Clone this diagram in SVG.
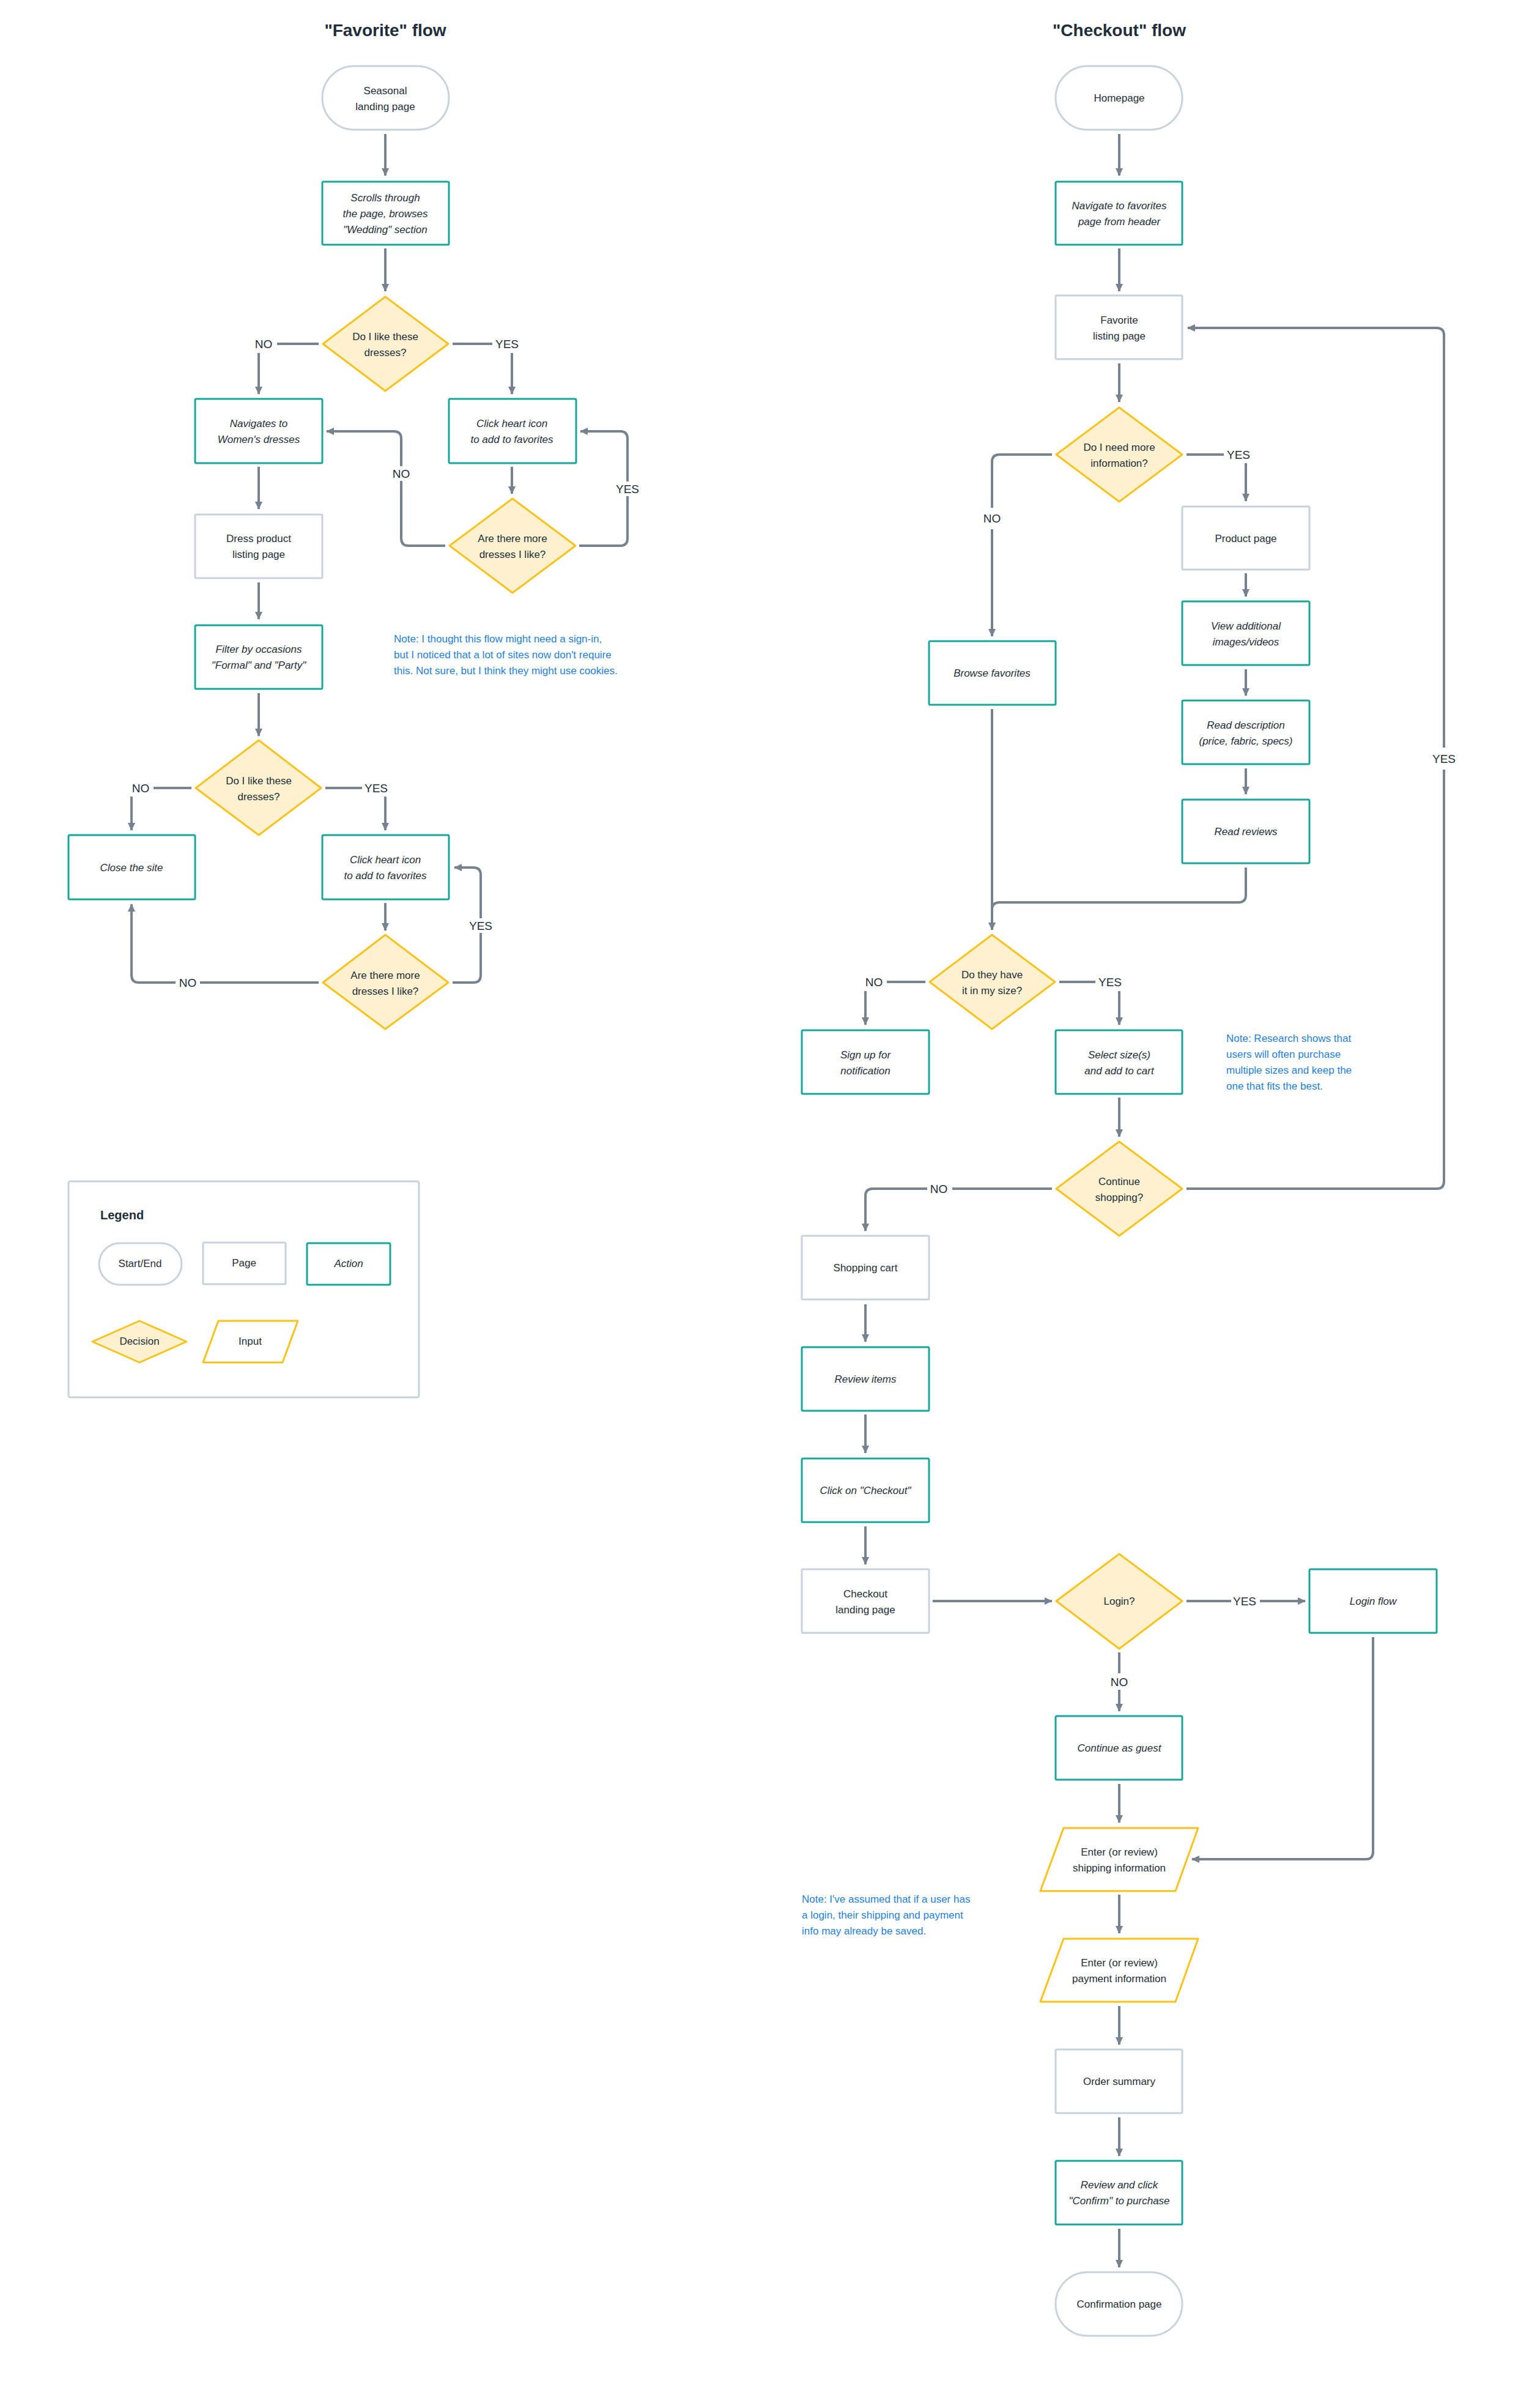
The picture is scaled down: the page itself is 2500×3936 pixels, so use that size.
<svg xmlns="http://www.w3.org/2000/svg" width="2500" height="3936" viewBox="0 0 2500 3936">
<style>
text{font-family:"Liberation Sans","DejaVu Sans",sans-serif;fill:#1f2d3a;font-size:17px;text-anchor:middle}
.t{font-size:28px;font-weight:bold}
.i{font-style:italic}
.lb{font-size:19px}
.note{fill:#1f7fd6;text-anchor:start;font-size:17px}
.act{fill:#fff;stroke:#17a697;stroke-width:3}
.pg{fill:#fff;stroke:#c8d2dc;stroke-width:3}
.dec{fill:#fdf1cf;stroke:#f6c21b;stroke-width:3;stroke-linejoin:round}
.inp{fill:#fff;stroke:#f6c21b;stroke-width:3;stroke-linejoin:round}
.c path{fill:none;stroke:#76828f;stroke-width:4}
.c path.a{marker-end:url(#ah)}
</style>
<defs>
<marker id="ah" markerUnits="userSpaceOnUse" markerWidth="14" markerHeight="14" refX="12" refY="7" orient="auto"><path d="M0,1 L13,7 L0,13 Z" fill="#76828f"/></marker>
</defs>
<rect width="2500" height="3936" fill="#fff"/>
<text class="t" x="630" y="59">"Favorite" flow</text>
<text class="t" x="1830" y="59">"Checkout" flow</text>

<g class="c" id="connectors">
<path class="a" d="M630,219 V287"/>
<path class="a" d="M630,406 V476"/>
<path d="M521,562 H453"/><path class="a" d="M423,577 V644"/>
<path d="M740,562 H805"/><path class="a" d="M837,577 V644"/>
<path class="a" d="M837,763 V807"/>
<path d="M728,892 H668 Q656,892 656,880 V786"/><path class="a" d="M656,762 V717 Q656,705 644,705 H534"/>
<path d="M947,892 H1014 Q1026,892 1026,880 V811"/><path class="a" d="M1026,787 V717 Q1026,705 1014,705 H949"/>
<path class="a" d="M423,763 V832"/>
<path class="a" d="M423,952 V1012"/>
<path class="a" d="M423,1133 V1203"/>
<path d="M313,1288 H251"/><path class="a" d="M215,1302 V1357"/>
<path d="M532,1288 H592"/><path class="a" d="M630,1302 V1357"/>
<path class="a" d="M630,1476 V1521"/>
<path d="M521,1606 H327"/><path class="a" d="M287,1606 H227 Q215,1606 215,1594 V1478"/>
<path d="M740,1606 H774 Q786,1606 786,1594 V1525"/><path class="a" d="M786,1501 V1430 Q786,1418 774,1418 H743"/>

<path class="a" d="M1830,219 V287"/>
<path class="a" d="M1830,406 V476"/>
<path class="a" d="M1830,594 V657"/>
<path d="M1720,743 H1634 Q1622,743 1622,755 V830"/><path class="a" d="M1622,865 V1040"/>
<path d="M1940,743 H2001"/><path class="a" d="M2037,757 V819"/>
<path class="a" d="M2037,937 V975"/>
<path class="a" d="M2037,1094 V1137"/>
<path class="a" d="M2037,1256 V1298"/>
<path class="a" d="M1622,1159 V1520"/>
<path d="M2037,1418 V1463 Q2037,1475 2025,1475 H1634 Q1622,1475 1622,1487"/>
<path d="M1513,1605 H1450"/><path class="a" d="M1415,1620 V1675"/>
<path d="M1732,1605 H1791"/><path class="a" d="M1830,1620 V1675"/>
<path class="a" d="M1830,1794 V1858"/>
<path d="M1720,1943 H1557"/><path class="a" d="M1516,1943 H1427 Q1415,1943 1415,1955 V2012"/>
<path d="M1940,1943 H2349 Q2361,1943 2361,1931 V1258"/><path class="a" d="M2361,1222 V548 Q2361,536 2349,536 H1942"/>
<path class="a" d="M1415,2132 V2193"/>
<path class="a" d="M1415,2312 V2375"/>
<path class="a" d="M1415,2495 V2557"/>
<path class="a" d="M1525,2617 H1720"/>
<path d="M1940,2617 H2013"/><path class="a" d="M2060,2617 H2134"/>
<path class="a" d="M2245,2676 V3027 Q2245,3039 2233,3039 H1949"/>
<path d="M1830,2701 V2735"/><path class="a" d="M1830,2762 V2797"/>
<path class="a" d="M1830,2916 V2979"/>
<path class="a" d="M1830,3097 V3160"/>
<path class="a" d="M1830,3279 V3342"/>
<path class="a" d="M1830,3461 V3524"/>
<path class="a" d="M1830,3643 V3706"/>
</g>

<g id="labels">
<text class="lb" x="431" y="569" font-size="22">NO</text>
<text class="lb" x="829" y="569">YES</text>
<text class="lb" x="656" y="781">NO</text>
<text class="lb" x="1026" y="806">YES</text>
<text class="lb" x="230" y="1295">NO</text>
<text class="lb" x="615" y="1295">YES</text>
<text class="lb" x="307" y="1613">NO</text>
<text class="lb" x="786" y="1520">YES</text>
<text class="lb" x="1622" y="854" font-size="21">NO</text>
<text class="lb" x="2025" y="750">YES</text>
<text class="lb" x="1429" y="1612">NO</text>
<text class="lb" x="1815" y="1612">YES</text>
<text class="lb" x="1535" y="1950">NO</text>
<text class="lb" x="2361" y="1247">YES</text>
<text class="lb" x="2035" y="2624">YES</text>
<text class="lb" x="1830" y="2756">NO</text>
</g>

<g id="n-seasonal"><rect class="pg" x="527" y="108" width="207" height="104" rx="52"/><text x="630" y="154">Seasonal</text><text x="630" y="180">landing page</text></g>
<g id="n-scrolls"><rect class="act" x="527" y="297" width="207" height="103" rx="2"/><text class="i" x="630" y="329">Scrolls through</text><text class="i" x="630" y="355">the page, browses</text><text class="i" x="630" y="381">"Wedding" section</text></g>
<g id="n-d1"><polygon class="dec" points="630,485 733,562 630,639 528,562"/><text x="630" y="556">Do I like these</text><text x="630" y="582">dresses?</text></g>
<g id="n-navigates"><rect class="act" x="319" y="652" width="208" height="105" rx="2"/><text class="i" x="423" y="698">Navigates to</text><text class="i" x="423" y="724">Women's dresses</text></g>
<g id="n-heart1"><rect class="act" x="734" y="652" width="208" height="105" rx="2"/><text class="i" x="837" y="698">Click heart icon</text><text class="i" x="837" y="724">to add to favorites</text></g>
<g id="n-more1"><polygon class="dec" points="838,815 941,892 838,969 735,892"/><text x="838" y="886">Are there more</text><text x="838" y="912">dresses I like?</text></g>
<g id="n-dresslist"><rect class="pg" x="319" y="841" width="208" height="104" rx="2"/><text x="423" y="886">Dress product</text><text x="423" y="912">listing page</text></g>
<g id="n-filter"><rect class="act" x="319" y="1022" width="208" height="104" rx="2"/><text class="i" x="423" y="1067">Filter by occasions</text><text class="i" x="423" y="1093">"Formal" and "Party"</text></g>
<g id="n-d2"><polygon class="dec" points="423,1210 525,1288 423,1365 320,1288"/><text x="423" y="1282">Do I like these</text><text x="423" y="1308">dresses?</text></g>
<g id="n-close"><rect class="act" x="112" y="1365" width="207" height="105" rx="2"/><text class="i" x="215" y="1424">Close the site</text></g>
<g id="n-heart2"><rect class="act" x="527" y="1365" width="207" height="105" rx="2"/><text class="i" x="630" y="1411">Click heart icon</text><text class="i" x="630" y="1437">to add to favorites</text></g>
<g id="n-more2"><polygon class="dec" points="630,1528 733,1606 630,1682 528,1606"/><text x="630" y="1600">Are there more</text><text x="630" y="1626">dresses I like?</text></g>
<g id="note1"><text class="note" x="644" y="1050">Note: I thought this flow might need a sign-in,</text><text class="note" x="644" y="1076">but I noticed that a lot of sites now don't require</text><text class="note" x="644" y="1102">this. Not sure, but I think they might use cookies.</text></g>

<g id="legend">
<rect x="112" y="1931" width="573" height="353" rx="3" fill="#fff" stroke="#c8d2dc" stroke-width="3"/>
<text x="164" y="1993" style="text-anchor:start;font-weight:bold;font-size:20px">Legend</text>
<rect class="pg" x="162" y="2032" width="135" height="68" rx="34"/><text x="229" y="2071" font-size="14">Start/End</text>
<rect class="pg" x="332" y="2031" width="135" height="68" rx="2"/><text x="399" y="2070" font-size="14">Page</text>
<rect class="act" x="502" y="2032" width="136" height="68" rx="2"/><text class="i" x="570" y="2071" font-size="14">Action</text>
<polygon class="dec" points="228,2159 305,2193 228,2227 151,2193"/><text x="228" y="2198" font-size="14">Decision</text>
<polygon class="inp" points="357,2159 487,2159 462,2227 332,2227"/><text x="409" y="2198" font-size="14">Input</text>
</g>

<g id="n-home"><rect class="pg" x="1726" y="108" width="207" height="104" rx="52"/><text x="1830" y="166">Homepage</text></g>
<g id="n-navfav"><rect class="act" x="1726" y="297" width="207" height="103" rx="2"/><text class="i" x="1830" y="342">Navigate to favorites</text><text class="i" x="1830" y="368">page from header</text></g>
<g id="n-favlist"><rect class="pg" x="1726" y="483" width="207" height="104" rx="2"/><text x="1830" y="529">Favorite</text><text x="1830" y="555">listing page</text></g>
<g id="n-needinfo"><polygon class="dec" points="1830,666 1933,743 1830,820 1727,743"/><text x="1830" y="737">Do I need more</text><text x="1830" y="763">information?</text></g>
<g id="n-product"><rect class="pg" x="1933" y="828" width="208" height="103" rx="2"/><text x="2037" y="886">Product page</text></g>
<g id="n-viewadd"><rect class="act" x="1933" y="983" width="208" height="104" rx="2"/><text class="i" x="2037" y="1029">View additional</text><text class="i" x="2037" y="1055">images/videos</text></g>
<g id="n-readdesc"><rect class="act" x="1933" y="1145" width="208" height="104" rx="2"/><text class="i" x="2037" y="1191">Read description</text><text class="i" x="2037" y="1217">(price, fabric, specs)</text></g>
<g id="n-reviews"><rect class="act" x="1933" y="1307" width="208" height="104" rx="2"/><text class="i" x="2037" y="1365">Read reviews</text></g>
<g id="n-browse"><rect class="act" x="1519" y="1048" width="207" height="104" rx="2"/><text class="i" x="1622" y="1106">Browse favorites</text></g>
<g id="n-size"><polygon class="dec" points="1622,1528 1725,1605 1622,1682 1520,1605"/><text x="1622" y="1599">Do they have</text><text x="1622" y="1625">it in my size?</text></g>
<g id="n-signup"><rect class="act" x="1311" y="1684" width="208" height="104" rx="2"/><text class="i" x="1415" y="1730">Sign up for</text><text class="i" x="1415" y="1756">notification</text></g>
<g id="n-select"><rect class="act" x="1726" y="1684" width="207" height="104" rx="2"/><text class="i" x="1830" y="1730">Select size(s)</text><text class="i" x="1830" y="1756">and add to cart</text></g>
<g id="note2"><text class="note" x="2005" y="1703">Note: Research shows that</text><text class="note" x="2005" y="1729">users will often purchase</text><text class="note" x="2005" y="1755">multiple sizes and keep the</text><text class="note" x="2005" y="1781">one that fits the best.</text></g>
<g id="n-continue"><polygon class="dec" points="1830,1866 1933,1943 1830,2020 1727,1943"/><text x="1830" y="1937">Continue</text><text x="1830" y="1963">shopping?</text></g>
<g id="n-cart"><rect class="pg" x="1311" y="2020" width="208" height="104" rx="2"/><text x="1415" y="2078">Shopping cart</text></g>
<g id="n-reviewitems"><rect class="act" x="1311" y="2202" width="208" height="104" rx="2"/><text class="i" x="1415" y="2260">Review items</text></g>
<g id="n-clickcheckout"><rect class="act" x="1311" y="2384" width="208" height="104" rx="2"/><text class="i" x="1415" y="2442">Click on "Checkout"</text></g>
<g id="n-checkoutlanding"><rect class="pg" x="1311" y="2565" width="208" height="104" rx="2"/><text x="1415" y="2611">Checkout</text><text x="1415" y="2637">landing page</text></g>
<g id="n-login"><polygon class="dec" points="1830,2540 1933,2617 1830,2695 1727,2617"/><text x="1830" y="2623">Login?</text></g>
<g id="n-loginflow"><rect class="act" x="2141" y="2565" width="208" height="104" rx="2"/><text class="i" x="2245" y="2623">Login flow</text></g>
<g id="n-guest"><rect class="act" x="1726" y="2805" width="207" height="104" rx="2"/><text class="i" x="1830" y="2863">Continue as guest</text></g>
<g id="n-shipping"><polygon class="inp" points="1739,2988 1959,2988 1922,3091 1701,3091"/><text x="1830" y="3033">Enter (or review)</text><text x="1830" y="3059">shipping information</text></g>
<g id="note3"><text class="note" x="1311" y="3110">Note: I've assumed that if a user has</text><text class="note" x="1311" y="3136">a login, their shipping and payment</text><text class="note" x="1311" y="3162">info may already be saved.</text></g>
<g id="n-payment"><polygon class="inp" points="1739,3169 1959,3169 1922,3272 1701,3272"/><text x="1830" y="3214">Enter (or review)</text><text x="1830" y="3240">payment information</text></g>
<g id="n-summary"><rect class="pg" x="1726" y="3350" width="207" height="104" rx="2"/><text x="1830" y="3408">Order summary</text></g>
<g id="n-confirmclick"><rect class="act" x="1726" y="3532" width="207" height="104" rx="2"/><text class="i" x="1830" y="3577">Review and click</text><text class="i" x="1830" y="3603">"Confirm" to purchase</text></g>
<g id="n-confirmation"><rect class="pg" x="1726" y="3714" width="207" height="104" rx="52"/><text x="1830" y="3772">Confirmation page</text></g>
</svg>
